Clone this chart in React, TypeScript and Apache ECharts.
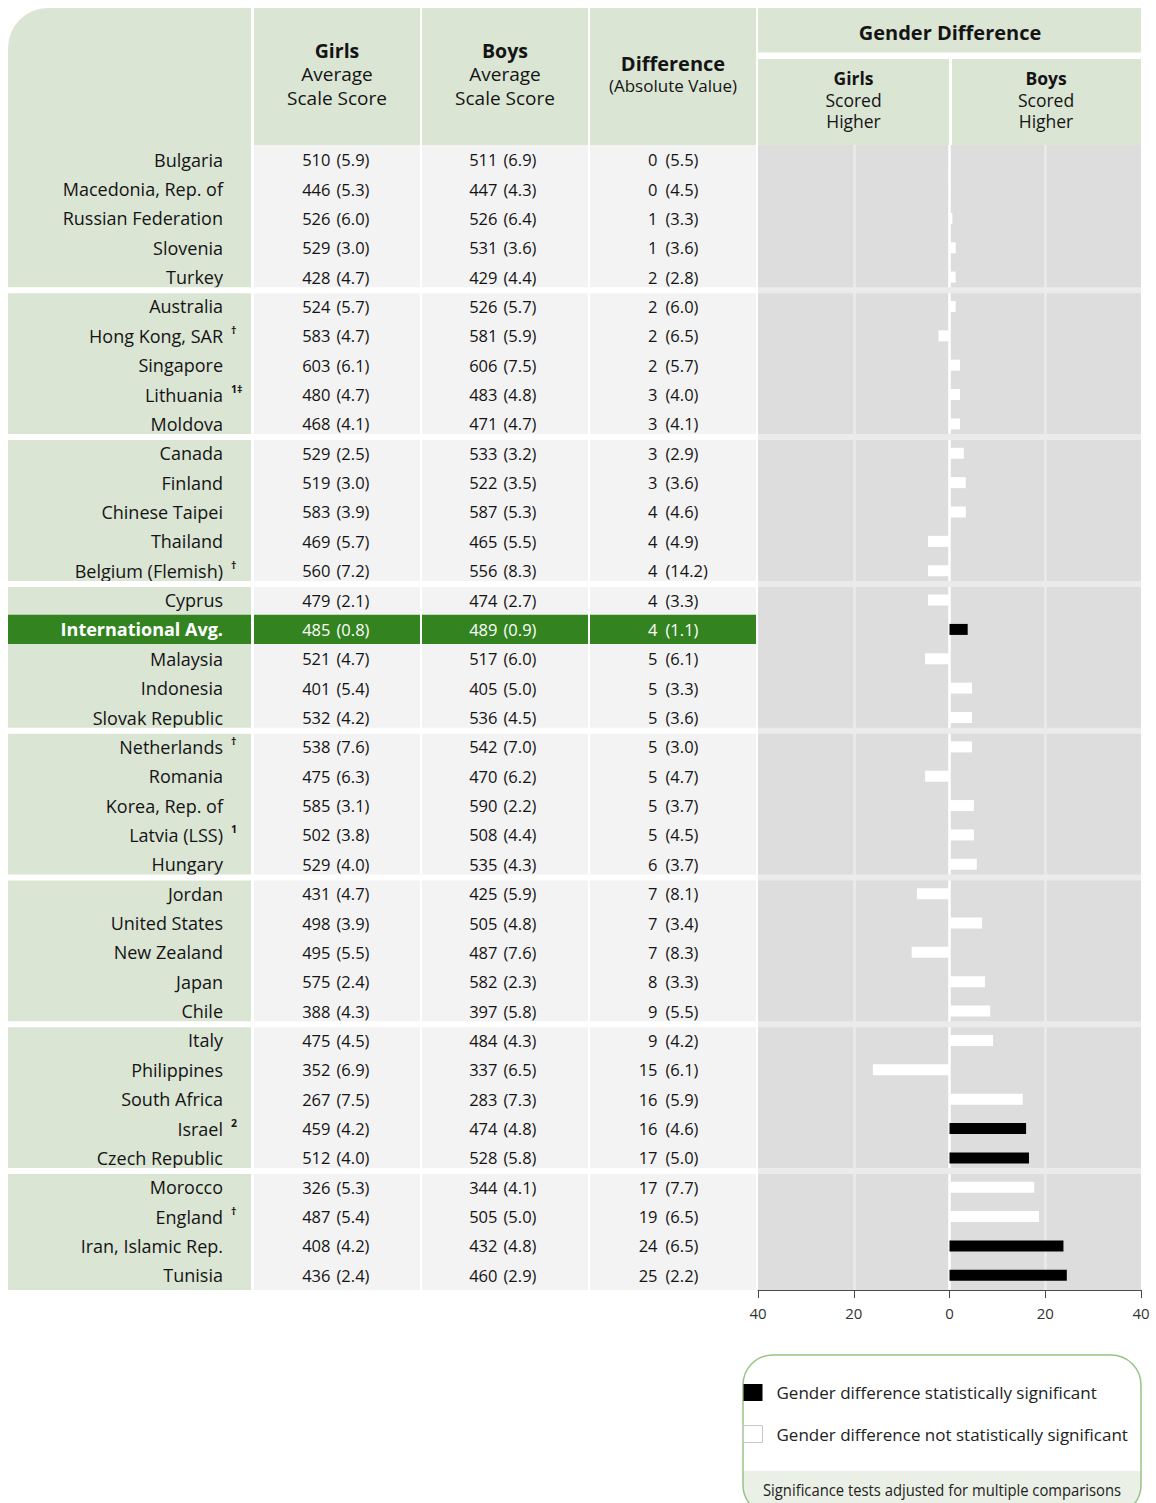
import React, { useEffect, useRef } from "react";
import * as echarts from "echarts";

// ---------- DATA ----------
const countries = [
  "Bulgaria", "Macedonia, Rep. of", "Russian Federation", "Slovenia", "Turkey",
  "Australia", "Hong Kong, SAR", "Singapore", "Lithuania", "Moldova",
  "Canada", "Finland", "Chinese Taipei", "Thailand", "Belgium (Flemish)",
  "Cyprus", "International Avg.", "Malaysia", "Indonesia", "Slovak Republic",
  "Netherlands", "Romania", "Korea, Rep. of", "Latvia (LSS)", "Hungary",
  "Jordan", "United States", "New Zealand", "Japan", "Chile",
  "Italy", "Philippines", "South Africa", "Israel", "Czech Republic",
  "Morocco", "England", "Iran, Islamic Rep.", "Tunisia",
];
const marks = [
  "", "", "", "", "",
  "", "†", "", "1‡", "",
  "", "", "", "", "†",
  "", "", "", "", "",
  "†", "", "", "1", "",
  "", "", "", "", "",
  "", "", "", "2", "",
  "", "†", "", "",
];
const girlsMean = [510, 446, 526, 529, 428, 524, 583, 603, 480, 468, 529, 519, 583, 469, 560, 479, 485, 521, 401, 532, 538, 475, 585, 502, 529, 431, 498, 495, 575, 388, 475, 352, 267, 459, 512, 326, 487, 408, 436];
const girlsSE = [5.9, 5.3, 6.0, 3.0, 4.7, 5.7, 4.7, 6.1, 4.7, 4.1, 2.5, 3.0, 3.9, 5.7, 7.2, 2.1, 0.8, 4.7, 5.4, 4.2, 7.6, 6.3, 3.1, 3.8, 4.0, 4.7, 3.9, 5.5, 2.4, 4.3, 4.5, 6.9, 7.5, 4.2, 4.0, 5.3, 5.4, 4.2, 2.4];
const boysMean = [511, 447, 526, 531, 429, 526, 581, 606, 483, 471, 533, 522, 587, 465, 556, 474, 489, 517, 405, 536, 542, 470, 590, 508, 535, 425, 505, 487, 582, 397, 484, 337, 283, 474, 528, 344, 505, 432, 460];
const boysSE = [6.9, 4.3, 6.4, 3.6, 4.4, 5.7, 5.9, 7.5, 4.8, 4.7, 3.2, 3.5, 5.3, 5.5, 8.3, 2.7, 0.9, 6.0, 5.0, 4.5, 7.0, 6.2, 2.2, 4.4, 4.3, 5.9, 4.8, 7.6, 2.3, 5.8, 4.3, 6.5, 7.3, 4.8, 5.8, 4.1, 5.0, 4.8, 2.9];
const diffAbs = [0, 0, 1, 1, 2, 2, 2, 2, 3, 3, 3, 3, 4, 4, 4, 4, 4, 5, 5, 5, 5, 5, 5, 5, 6, 7, 7, 7, 8, 9, 9, 15, 16, 16, 17, 17, 19, 24, 25];
const diffSE = [5.5, 4.5, 3.3, 3.6, 2.8, 6.0, 6.5, 5.7, 4.0, 4.1, 2.9, 3.6, 4.6, 4.9, 14.2, 3.3, 1.1, 6.1, 3.3, 3.6, 3.0, 4.7, 3.7, 4.5, 3.7, 8.1, 3.4, 8.3, 3.3, 5.5, 4.2, 6.1, 5.9, 4.6, 5.0, 7.7, 6.5, 6.5, 2.2];
// signed gender difference (boys minus girls)
const genderDiff = [0.2, 0.2, 0.6, 1.3, 1.3, 1.3, -2.3, 2.2, 2.2, 2.2, 3.0, 3.4, 3.4, -4.5, -4.5, -4.5, 3.8, -5.1, 4.7, 4.7, 4.7, -5.1, 5.1, 5.1, 5.7, -6.8, 6.8, -7.9, 7.4, 8.5, 9.1, -16.0, 15.3, 16.0, 16.6, 17.7, 18.7, 23.8, 24.5];
const significantRows = [16, 33, 34, 37, 38];
const groupEnds = [4, 9, 14, 19, 24, 29, 34];
const INTL_ROW = 16;
const axisMin = -40;
const axisMax = 40;
const axisInterval = 20;

const SIG_NAME = "Gender difference statistically significant";
const NONSIG_NAME = "Gender difference not statistically significant";
const FOOTNOTE = "Significance tests adjusted for multiple comparisons";

// ---------- LAYOUT / STYLE ----------
const FF = "'Open Sans', 'Noto Sans', sans-serif";
const HDR = "#dbe5d4";
const CELL = "#f3f3f3";
const PANEL = "#dddddd";
const INTL_GREEN = "#338421";
const TXT = "#141414";
const TOP = 145;
const BOTTOM = 1290;
const COLS = [
  { left: 8, width: 243, bg: HDR },
  { left: 254, width: 166, bg: CELL },
  { left: 422, width: 166, bg: CELL },
  { left: 590, width: 166, bg: CELL },
  { left: 758, width: 383, bg: PANEL },
];
// offsets from cell centre: [mean right edge, SE left edge]
const NUM_OFF = [null, [-6.5, -0.5], [-7.5, -1.5], [-15.5, -7.5]];

function txt(x: number, y: number, text: string, size: number, weight: string, fill: string, align: string, extra: any = {}) {
  return {
    type: "text",
    x,
    y,
    silent: true,
    ...extra,
    style: {
      text,
      fontSize: size,
      fontWeight: weight,
      fontFamily: FF,
      fill,
      align,
      textAlign: align,
      verticalAlign: "middle",
      textVerticalAlign: "middle",
    },
  };
}

function tableRenderer(col: number) {
  return (params: any, api: any) => {
    const r = api.value(1) as number;
    const cs = params.coordSys;
    const cy = api.coord([0, r])[1];
    const bh = api.size([0, 1])[1];
    const left = cs.x;
    const w = cs.width;
    const cx = left + w / 2;
    const intl = r === INTL_ROW;
    const fill = intl ? "#ffffff" : TXT;
    const children: any[] = [];
    if (intl) {
      children.push({
        type: "rect",
        shape: { x: left, y: cy - bh / 2, width: w, height: bh },
        style: { fill: INTL_GREEN },
      });
    }
    if (col === 0) {
      children.push(txt(left + 215, cy, countries[r], 18, intl ? "bold" : "normal", fill, "right"));
      if (marks[r]) children.push(txt(left + 223, cy - 6, marks[r], 10.5, "bold", fill, "left"));
    } else {
      const mean = col === 1 ? girlsMean[r] : col === 2 ? boysMean[r] : diffAbs[r];
      const se = col === 1 ? girlsSE[r] : col === 2 ? boysSE[r] : diffSE[r];
      const off = NUM_OFF[col] as number[];
      children.push(txt(cx + off[0], cy, String(mean), 16.5, "normal", fill, "right"));
      children.push(txt(cx + off[1], cy, "(" + se.toFixed(1) + ")", 16.5, "normal", fill, "left"));
    }
    return { type: "group", children };
  };
}

function separatorRenderer(color: string) {
  return (params: any, api: any) => {
    const r = api.value(1) as number;
    const cs = params.coordSys;
    const cy = api.coord([api.value(0), r])[1];
    const bh = api.size([0, 1])[1];
    return {
      type: "rect",
      shape: { x: cs.x, y: cy + bh / 2 - 4.5, width: cs.width, height: 6 },
      style: { fill: color },
    };
  };
}

function buildOption(): any {
  const grids = COLS.map((c) => ({
    left: c.left,
    width: c.width,
    top: TOP,
    height: BOTTOM - TOP,
    show: true,
    backgroundColor: c.bg,
    borderWidth: 0,
  }));
  const xAxes: any[] = COLS.slice(0, 4).map((_, i) => ({
    type: "category",
    gridIndex: i,
    data: ["c"],
    show: false,
  }));
  xAxes.push({
    type: "value",
    gridIndex: 4,
    min: axisMin,
    max: axisMax,
    interval: axisInterval,
    axisLine: { show: true, onZero: false, lineStyle: { color: "#4a4a4a", width: 1 } },
    axisTick: { show: true, length: 8, lineStyle: { color: "#4a4a4a", width: 1 } },
    axisLabel: {
      formatter: (v: number) => String(Math.abs(v)),
      fontSize: 15,
      color: "#333",
      fontFamily: FF,
      margin: 15,
    },
    splitLine: {
      show: true,
      showMinLine: true,
      showMaxLine: true,
      lineStyle: {
        color: ["rgba(0,0,0,0)", "#ebebeb", "#ffffff", "#ebebeb", "rgba(0,0,0,0)"],
        width: 2.5,
      },
    },
  });
  const yAxes = COLS.map((_, i) => ({
    type: "category",
    gridIndex: i,
    data: countries,
    inverse: true,
    show: false,
  }));

  const series: any[] = [];
  for (let i = 0; i < 4; i++) {
    series.push({
      type: "custom",
      name: "table" + i,
      xAxisIndex: i,
      yAxisIndex: i,
      silent: true,
      z: 2,
      renderItem: tableRenderer(i),
      data: countries.map((_, r) => [0, r]),
    });
  }
  for (let i = 0; i < 5; i++) {
    series.push({
      type: "custom",
      name: "sep" + i,
      xAxisIndex: i,
      yAxisIndex: i,
      silent: true,
      z: 3,
      renderItem: separatorRenderer(i === 4 ? "#ebebeb" : "#ffffff"),
      data: groupEnds.map((r) => [0, r]),
    });
  }
  series.push({
    type: "bar",
    name: SIG_NAME,
    xAxisIndex: 4,
    yAxisIndex: 4,
    barWidth: 11,
    barGap: "-100%",
    z: 5,
    itemStyle: { color: "#000000" },
    data: genderDiff.map((v, i) => (significantRows.includes(i) ? v : "-")),
  });
  series.push({
    type: "bar",
    name: NONSIG_NAME,
    xAxisIndex: 4,
    yAxisIndex: 4,
    barWidth: 11,
    barGap: "-100%",
    z: 5,
    itemStyle: { color: "#ffffff" },
    data: genderDiff.map((v, i) => (significantRows.includes(i) ? "-" : v)),
  });

  const hdrRects = [
    { type: "rect", z: 1, shape: { x: COLS[0].left, y: 8, width: COLS[0].width, height: TOP - 8, r: [40, 0, 0, 0] }, style: { fill: HDR } },
    { type: "rect", z: 1, shape: { x: COLS[1].left, y: 8, width: COLS[1].width, height: TOP - 8 }, style: { fill: HDR } },
    { type: "rect", z: 1, shape: { x: COLS[2].left, y: 8, width: COLS[2].width, height: TOP - 8 }, style: { fill: HDR } },
    { type: "rect", z: 1, shape: { x: COLS[3].left, y: 8, width: COLS[3].width, height: TOP - 8 }, style: { fill: HDR } },
    { type: "rect", z: 1, shape: { x: COLS[4].left, y: 8, width: COLS[4].width, height: 44.5 }, style: { fill: HDR } },
    { type: "rect", z: 1, shape: { x: 758, y: 59, width: 191, height: TOP - 59 }, style: { fill: HDR } },
    { type: "rect", z: 1, shape: { x: 952, y: 59, width: 189, height: TOP - 59 }, style: { fill: HDR } },
  ];
  const gcx = COLS[1].left + COLS[1].width / 2;
  const bcx = COLS[2].left + COLS[2].width / 2;
  const dcx = COLS[3].left + COLS[3].width / 2;
  const z3 = { z: 3 };
  const hdrTexts = [
    txt(gcx, 50, "Girls", 19.5, "bold", TXT, "center", z3),
    txt(gcx, 73.75, "Average", 19, "normal", TXT, "center", z3),
    txt(gcx, 97.75, "Scale Score", 19, "normal", TXT, "center", z3),
    txt(bcx, 50, "Boys", 19.5, "bold", TXT, "center", z3),
    txt(bcx, 73.75, "Average", 19, "normal", TXT, "center", z3),
    txt(bcx, 97.75, "Scale Score", 19, "normal", TXT, "center", z3),
    txt(dcx, 63, "Difference", 20, "bold", TXT, "center", z3),
    txt(dcx, 85.5, "(Absolute Value)", 17, "normal", TXT, "center", z3),
    txt(950, 32.5, "Gender Difference", 20, "bold", TXT, "center", z3),
    txt(853.5, 78, "Girls", 17.5, "bold", TXT, "center", z3),
    txt(853.5, 99.5, "Scored", 17.5, "normal", TXT, "center", z3),
    txt(853.5, 121, "Higher", 17.5, "normal", TXT, "center", z3),
    txt(1046, 78, "Boys", 17.5, "bold", TXT, "center", z3),
    txt(1046, 99.5, "Scored", 17.5, "normal", TXT, "center", z3),
    txt(1046, 121, "Higher", 17.5, "normal", TXT, "center", z3),
  ];
  const legendBox = [
    { type: "rect", z: 1, shape: { x: 743, y: 1471, width: 398, height: 44, r: [0, 0, 30, 30] }, style: { fill: "#ebf0e6" } },
    { type: "rect", z: 2, shape: { x: 743, y: 1355, width: 398, height: 160, r: 30 }, style: { fill: "none", stroke: "#98c385", lineWidth: 1.5 } },
    txt(763, 1490, FOOTNOTE, 17, "normal", "#222", "left", { z: 5, scaleX: 0.87 }),
  ];

  return {
    animation: false,
    backgroundColor: "#ffffff",
    grid: grids,
    xAxis: xAxes,
    yAxis: yAxes,
    series,
    legend: {
      show: true,
      orient: "vertical",
      left: 743,
      top: 1384,
      padding: 0,
      itemWidth: 19,
      itemHeight: 17,
      itemGap: 24,
      icon: "rect",
      selectedMode: false,
      textStyle: { fontSize: 17, color: "#222", fontFamily: FF, padding: [0, 0, 0, 9] },
      data: [
        { name: SIG_NAME, itemStyle: { color: "#000000", borderWidth: 0 } },
        { name: NONSIG_NAME, itemStyle: { color: "#ffffff", borderColor: "#c8c8c8", borderWidth: 1 } },
      ],
    },
    graphic: { elements: [...hdrRects, ...hdrTexts, ...legendBox] },
  };
}

export default function App() {
  const ref = useRef<HTMLDivElement>(null);
  useEffect(() => {
    if (!ref.current) return;
    const chart = echarts.init(ref.current, null, { renderer: "svg" });
    chart.setOption(buildOption());
    return () => chart.dispose();
  }, []);
  return (
    <div
      ref={ref}
      style={{ position: "absolute", left: 0, top: 0, width: 1156, height: 1503 }}
    />
  );
}
